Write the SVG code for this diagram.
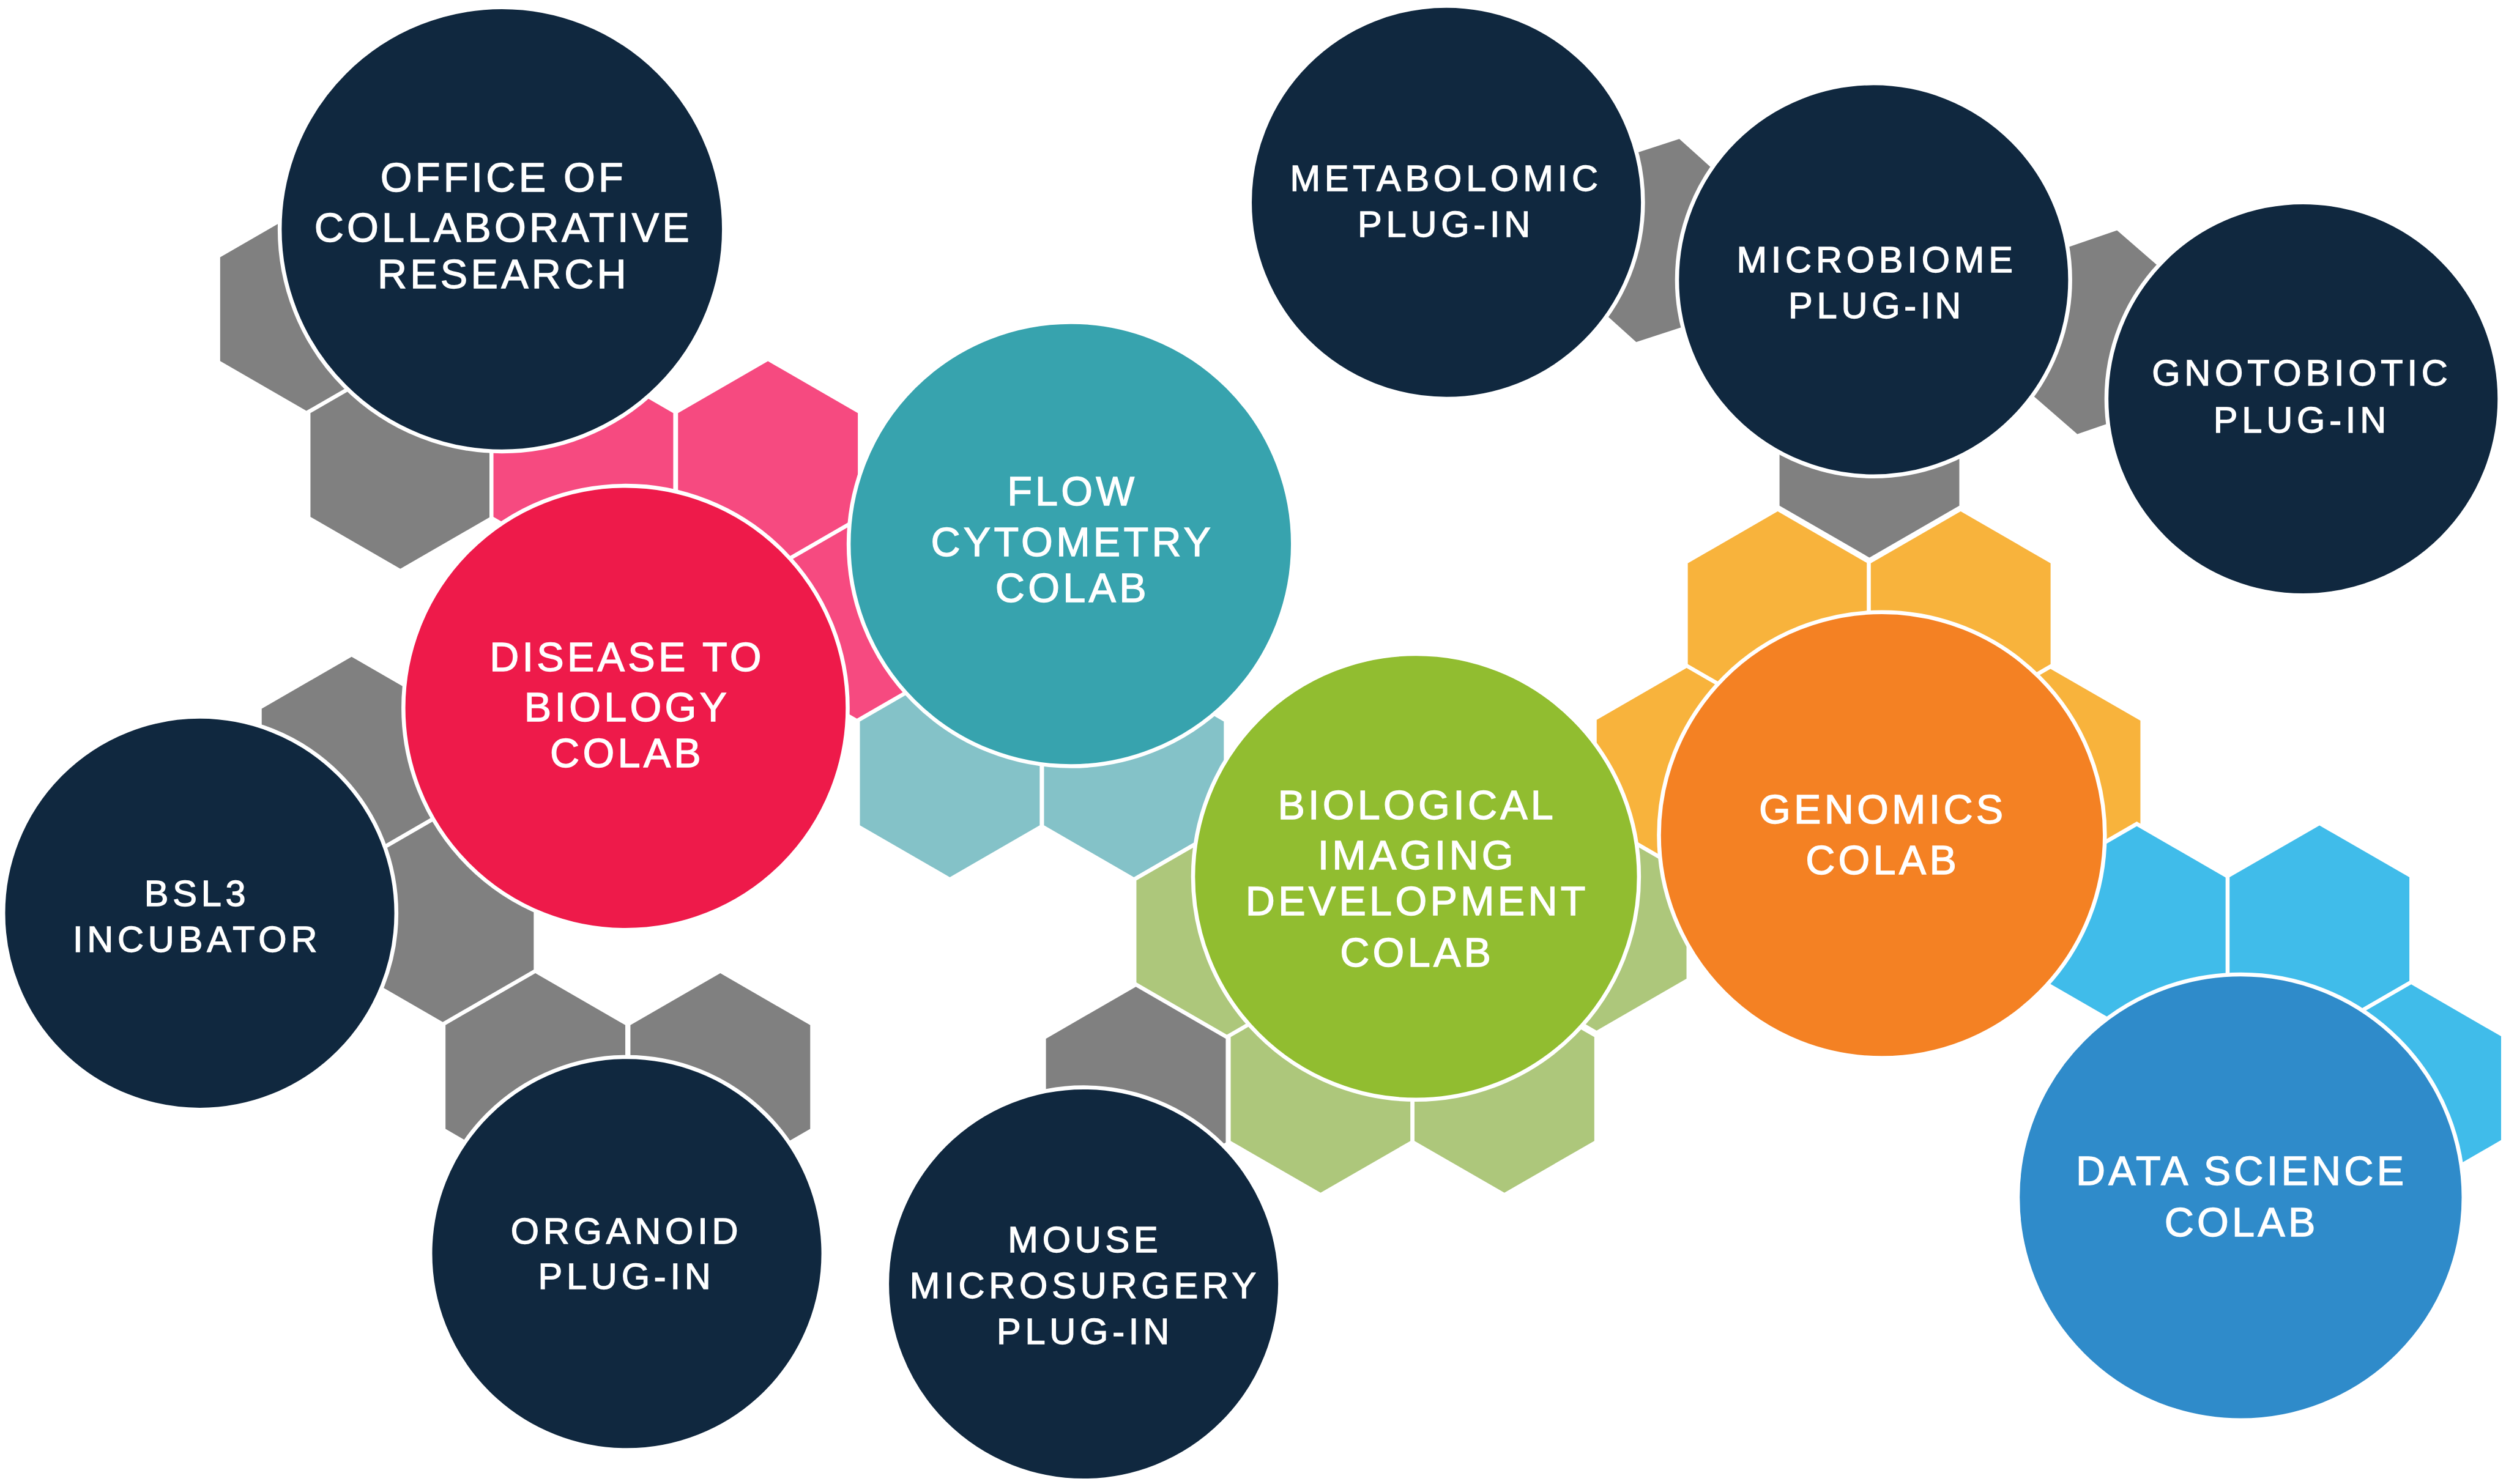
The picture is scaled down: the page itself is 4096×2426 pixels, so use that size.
<svg xmlns="http://www.w3.org/2000/svg" xmlns:xlink="http://www.w3.org/1999/xlink" width="4096" height="2426" viewBox="0 0 4096 2426">
<style>
.hx{stroke:#fff;stroke-width:2.5;stroke-linejoin:miter}
.gray{fill:#808080}.pink{fill:#F64A80}.lteal{fill:#84C2C8}.lgreen{fill:#ADC77B}.yellow{fill:#F8B33C}.lblue{fill:#40BCEA}
.c{stroke:#fff;stroke-width:2.5}
.navy{fill:#10283F}.red{fill:#EE1A4A}.teal{fill:#37A3AE}.green{fill:#91BD30}.orange{fill:#F48123}.blue{fill:#2F8BCA}
.t{font-family:"Liberation Sans",Arial,Helvetica,sans-serif;fill:#fff;stroke:#fff;stroke-width:0.5;text-anchor:middle}
.lg{font-size:25.5px;letter-spacing:2px}
.sm{font-size:22.8px;letter-spacing:2.6px}
</style>
<defs>
<path id="hex" d="M0,-66.4 L57.5,-33.2 L57.5,33.2 L0,66.4 L-57.5,33.2 L-57.5,-33.2 Z"/>
</defs>
<rect width="4096" height="2426" fill="#fff"/>
<g transform="scale(2.61224)">
<g id="hexagons">
<use xlink:href="#hex" class="hx gray" transform="translate(194,193.5)"/>
<use xlink:href="#hex" class="hx gray" transform="translate(250.5,291)"/>
<use xlink:href="#hex" class="hx pink" transform="translate(536.5,385)"/>
<use xlink:href="#hex" class="hx pink" transform="translate(365,291)"/>
<use xlink:href="#hex" class="hx pink" transform="translate(480.5,291)"/>
<use xlink:href="#hex" class="hx lteal" transform="translate(594.3,484)"/>
<use xlink:href="#hex" class="hx lteal" transform="translate(709.5,484)"/>
<use xlink:href="#hex" class="hx gray" transform="translate(220,476)"/>
<use xlink:href="#hex" class="hx gray" transform="translate(277.7,575)"/>
<use xlink:href="#hex" class="hx gray" transform="translate(335,674)"/>
<use xlink:href="#hex" class="hx gray" transform="translate(450.7,674)"/>
<use xlink:href="#hex" class="hx gray" transform="translate(1169.7,284)"/>
<use xlink:href="#hex" class="hx yellow" transform="translate(1112.3,385)"/>
<use xlink:href="#hex" class="hx yellow" transform="translate(1226.8,385)"/>
<use xlink:href="#hex" class="hx yellow" transform="translate(1055.3,483)"/>
<use xlink:href="#hex" class="hx yellow" transform="translate(1283,483.5)"/>
<use xlink:href="#hex" class="hx lgreen" transform="translate(767.3,583.5)"/>
<use xlink:href="#hex" class="hx gray" transform="translate(710.7,682.5)"/>
<use xlink:href="#hex" class="hx lgreen" transform="translate(826.3,681.5)"/>
<use xlink:href="#hex" class="hx lgreen" transform="translate(941.3,681.5)"/>
<use xlink:href="#hex" class="hx lgreen" transform="translate(999,580)"/>
<use xlink:href="#hex" class="hx lblue" transform="translate(1337,582)"/>
<use xlink:href="#hex" class="hx lblue" transform="translate(1451.3,581.5)"/>
<use xlink:href="#hex" class="hx lblue" transform="translate(1508.7,681)"/>
<use xlink:href="#hex" class="hx gray" transform="translate(1037.3,150.5) rotate(12)"/>
<use xlink:href="#hex" class="hx gray" transform="translate(1312.2,207.9) rotate(11)"/>
</g>
<g id="office">
<circle class="c navy" cx="314" cy="143.5" r="139"/>
<text class="t lg"><tspan x="315" y="119.8">OFFICE OF</tspan><tspan x="315" y="151.4">COLLABORATIVE</tspan><tspan x="315" y="180.2">RESEARCH</tspan></text>
</g>
<g id="disease">
<circle class="c red" cx="391.4" cy="443" r="139"/>
<text class="t lg"><tspan x="392.4" y="419.8">DISEASE TO</tspan><tspan x="392.4" y="451.5">BIOLOGY</tspan><tspan x="392.4" y="480.2">COLAB</tspan></text>
</g>
<g id="flow">
<circle class="c teal" cx="670" cy="340.5" r="139"/>
<text class="t lg"><tspan x="671" y="316.3">FLOW</tspan><tspan x="671" y="348.1">CYTOMETRY</tspan><tspan x="671" y="376.8">COLAB</tspan></text>
</g>
<g id="bsl3">
<circle class="c navy" cx="125" cy="571.5" r="123"/>
<text class="t sm"><tspan x="123.3" y="566.9">BSL3</tspan><tspan x="123.3" y="595.6">INCUBATOR</tspan></text>
</g>
<g id="organoid">
<circle class="c navy" cx="392.2" cy="784.5" r="123"/>
<text class="t sm"><tspan x="392" y="778.3">ORGANOID</tspan><tspan x="392" y="806.4">PLUG-IN</tspan></text>
</g>
<g id="mouse">
<circle class="c navy" cx="678" cy="803.5" r="123"/>
<text class="t sm"><tspan x="678.9" y="783.8">MOUSE</tspan><tspan x="678.9" y="812.4">MICROSURGERY</tspan><tspan x="678.9" y="841.1">PLUG-IN</tspan></text>
</g>
<g id="imaging">
<circle class="c green" cx="886" cy="548.7" r="139.5"/>
<text class="t lg"><tspan x="886.7" y="512.4">BIOLOGICAL</tspan><tspan x="886.7" y="544.1">IMAGING</tspan><tspan x="886.7" y="572.8">DEVELOPMENT</tspan><tspan x="886.7" y="604.8">COLAB</tspan></text>
</g>
<g id="genomics">
<circle class="c orange" cx="1177.5" cy="522.6" r="139.5"/>
<text class="t lg"><tspan x="1178" y="515.4">GENOMICS</tspan><tspan x="1178" y="547.2">COLAB</tspan></text>
</g>
<g id="datascience">
<circle class="c blue" cx="1402" cy="749.3" r="139.5"/>
<text class="t lg"><tspan x="1402.5" y="741.6">DATA SCIENCE</tspan><tspan x="1402.5" y="773.7">COLAB</tspan></text>
</g>
<g id="metabolomic">
<circle class="c navy" cx="905" cy="126.6" r="123"/>
<text class="t sm"><tspan x="904.8" y="119.4">METABOLOMIC</tspan><tspan x="904.8" y="148">PLUG-IN</tspan></text>
</g>
<g id="microbiome">
<circle class="c navy" cx="1172.3" cy="175.1" r="123"/>
<text class="t sm"><tspan x="1174.3" y="170.3">MICROBIOME</tspan><tspan x="1174.3" y="198.9">PLUG-IN</tspan></text>
</g>
<g id="gnotobiotic">
<circle class="c navy" cx="1441" cy="249.6" r="123"/>
<text class="t sm"><tspan x="1440.3" y="241.2">GNOTOBIOTIC</tspan><tspan x="1440.3" y="270.5">PLUG-IN</tspan></text>
</g>
<g id="connectors"/>
</g>
</svg>
